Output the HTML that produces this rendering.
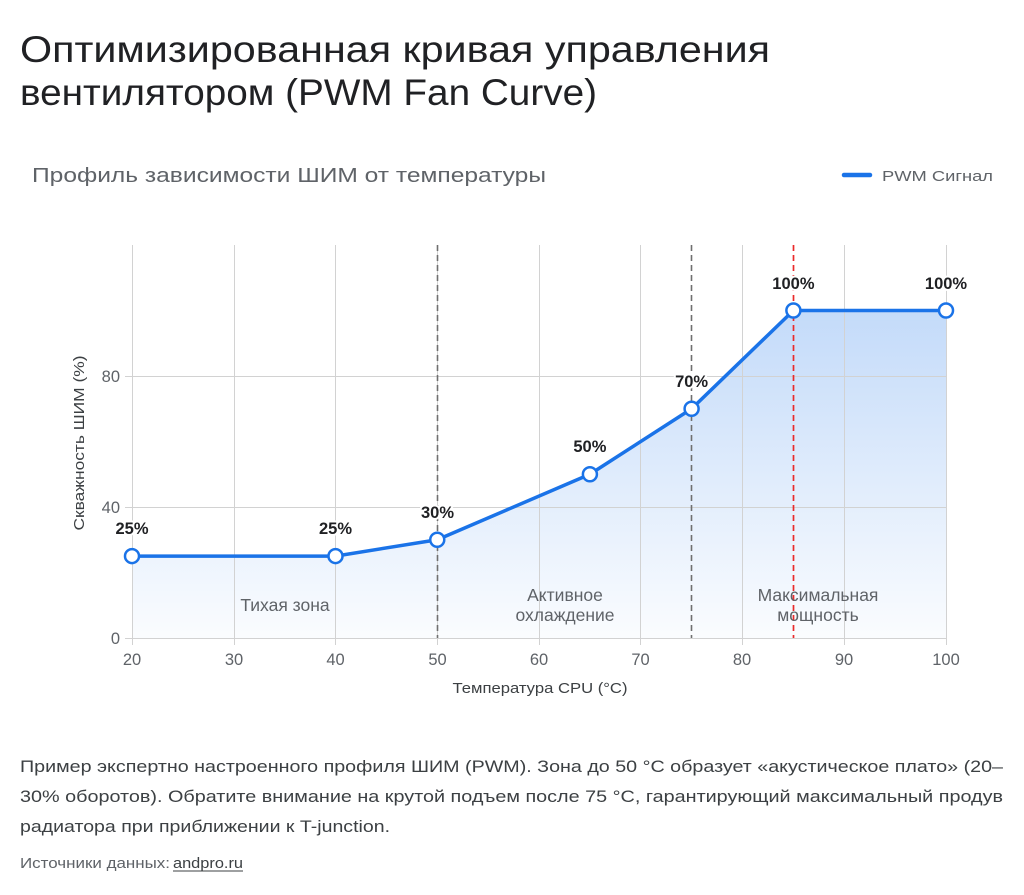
<!DOCTYPE html>
<html><head><meta charset="utf-8">
<style>
html,body{margin:0;padding:0;background:#fff;}
svg{display:block;}
text{font-family:"Liberation Sans","Noto Sans CJK SC",sans-serif;}
</style></head>
<body>
<svg width="1024" height="895" viewBox="0 0 1024 895" xmlns="http://www.w3.org/2000/svg">
<defs>
<linearGradient id="fg" gradientUnits="userSpaceOnUse" x1="0" y1="310" x2="0" y2="638">
<stop offset="0" stop-color="#1a73e8" stop-opacity="0.26"/>
<stop offset="1" stop-color="#1a73e8" stop-opacity="0.02"/>
</linearGradient>
</defs>
<!-- Title -->
<text x="20" y="62" font-size="37" fill="#202124" textLength="750" lengthAdjust="spacingAndGlyphs">Оптимизированная кривая управления</text>
<text x="20" y="105" font-size="37" fill="#202124" textLength="577" lengthAdjust="spacingAndGlyphs">вентилятором (PWM Fan Curve)</text>
<!-- Subtitle -->
<text x="32" y="182" font-size="20" fill="#5f6368" textLength="514" lengthAdjust="spacingAndGlyphs">Профиль зависимости ШИМ от температуры</text>
<!-- Legend -->
<line x1="844" y1="175" x2="870" y2="175" stroke="#1a73e8" stroke-width="4.5" stroke-linecap="round"/>
<text x="882" y="181" font-size="15" fill="#5f6368" textLength="111" lengthAdjust="spacingAndGlyphs">PWM Сигнал</text>

<!-- Fill -->
<path d="M132,556.1 L335.5,556.1 L437.25,539.75 L589.9,474.25 L691.6,408.75 L793.4,310.5 L946,310.5 L946,638 L132,638 Z" fill="url(#fg)"/>

<!-- Grid -->
<g stroke="#d2d2d2" stroke-width="1">
<line x1="132.5" y1="245" x2="132.5" y2="645"/>
<line x1="234.5" y1="245" x2="234.5" y2="645"/>
<line x1="335.5" y1="245" x2="335.5" y2="645"/>
<line x1="437.5" y1="245" x2="437.5" y2="645"/>
<line x1="539.5" y1="245" x2="539.5" y2="645"/>
<line x1="640.5" y1="245" x2="640.5" y2="645"/>
<line x1="742.5" y1="245" x2="742.5" y2="645"/>
<line x1="844.5" y1="245" x2="844.5" y2="645"/>
<line x1="946.5" y1="245" x2="946.5" y2="645"/>
<line x1="125" y1="376.5" x2="946" y2="376.5"/>
<line x1="125" y1="507.5" x2="946" y2="507.5"/>
<line x1="125" y1="638.5" x2="946" y2="638.5"/>
</g>

<!-- Dashed lines -->
<line x1="437.5" y1="245" x2="437.5" y2="638" stroke="#6f6f6f" stroke-width="1.6" stroke-dasharray="6,4"/>
<line x1="691.5" y1="245" x2="691.5" y2="638" stroke="#6f6f6f" stroke-width="1.6" stroke-dasharray="6,4"/>
<line x1="793.5" y1="245" x2="793.5" y2="638" stroke="#ea2a2a" stroke-width="1.7" stroke-dasharray="6,4"/>

<!-- Y tick labels -->
<g font-size="16.5" fill="#5f6368" text-anchor="end">
<text x="120" y="382">80</text>
<text x="120" y="513">40</text>
<text x="120" y="644">0</text>
</g>
<!-- X tick labels -->
<g font-size="16.5" fill="#5f6368" text-anchor="middle">
<text x="132" y="665">20</text>
<text x="234" y="665">30</text>
<text x="335.5" y="665">40</text>
<text x="437.5" y="665">50</text>
<text x="539" y="665">60</text>
<text x="640.5" y="665">70</text>
<text x="742" y="665">80</text>
<text x="844" y="665">90</text>
<text x="946" y="665">100</text>
</g>
<!-- Axis titles -->
<text x="540" y="693" font-size="14.5" fill="#3c4043" text-anchor="middle" textLength="175" lengthAdjust="spacingAndGlyphs">Температура CPU (°C)</text>
<text transform="translate(84,443) rotate(-90)" x="0" y="0" font-size="14.5" fill="#3c4043" text-anchor="middle" textLength="175" lengthAdjust="spacingAndGlyphs">Скважность ШИМ (%)</text>

<!-- Zone labels -->
<g font-size="17.5" fill="#5f6368" text-anchor="middle">
<text x="285" y="611">Тихая зона</text>
<text x="565" y="601">Активное</text>
<text x="565" y="621">охлаждение</text>
<text x="818" y="601">Максимальная</text>
<text x="818" y="621">мощность</text>
</g>

<!-- Line -->
<polyline points="132,556.1 335.5,556.1 437.25,539.75 589.9,474.25 691.6,408.75 793.4,310.5 946,310.5" fill="none" stroke="#1a73e8" stroke-width="3.5" stroke-linejoin="round"/>
<g fill="#fff" stroke="#1a73e8" stroke-width="2.5">
<circle cx="132" cy="556.1" r="7"/>
<circle cx="335.5" cy="556.1" r="7"/>
<circle cx="437.25" cy="539.75" r="7"/>
<circle cx="589.9" cy="474.25" r="7"/>
<circle cx="691.6" cy="408.75" r="7"/>
<circle cx="793.4" cy="310.5" r="7"/>
<circle cx="946" cy="310.5" r="7"/>
</g>

<!-- Data labels -->
<g font-size="16.5" font-weight="bold" fill="#202124" text-anchor="middle" stroke="#fff" stroke-width="4" paint-order="stroke" stroke-linejoin="round">
<text x="132" y="534">25%</text>
<text x="335.5" y="534">25%</text>
<text x="437.5" y="518">30%</text>
<text x="589.9" y="452">50%</text>
<text x="691.6" y="387">70%</text>
<text x="793.4" y="289">100%</text>
<text x="946" y="289">100%</text>
</g>

<!-- Description -->
<g font-size="16.5" fill="#3c4043">
<text x="20" y="772" textLength="983" lengthAdjust="spacingAndGlyphs">Пример экспертно настроенного профиля ШИМ (PWM). Зона до 50 °C образует «акустическое плато» (20–</text>
<text x="20" y="802" textLength="983" lengthAdjust="spacingAndGlyphs">30% оборотов). Обратите внимание на крутой подъем после 75 °C, гарантирующий максимальный продув</text>
<text x="20" y="832" textLength="370" lengthAdjust="spacingAndGlyphs">радиатора при приближении к T-junction.</text>
</g>
<text x="20" y="868" font-size="14.5" fill="#5f6368" textLength="150" lengthAdjust="spacingAndGlyphs">Источники данных:</text>
<text x="173" y="868" font-size="14.5" fill="#3c4043" textLength="70" lengthAdjust="spacingAndGlyphs">andpro.ru</text>
<line x1="173" y1="871" x2="243" y2="871" stroke="#3c4043" stroke-width="1"/>
</svg>
</body></html>
